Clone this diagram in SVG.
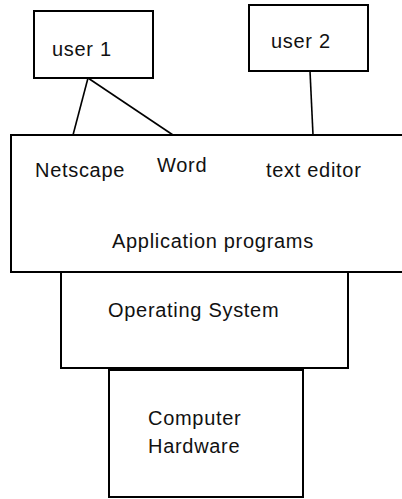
<svg xmlns="http://www.w3.org/2000/svg" width="402" height="499" viewBox="0 0 402 499">
<style>
.box{fill:#fff;stroke:#000;stroke-width:2}
.t{font-family:"Liberation Sans",Arial,sans-serif;font-size:20px;letter-spacing:0.7px;fill:#111}
.c{stroke:#000;stroke-width:1.6;fill:none}
</style>
<rect width="402" height="499" fill="#fff"/>
<g id="user1"><rect class="box" x="34" y="11" width="119" height="67"/><text class="t" x="52" y="56">user 1</text></g>
<g id="user2"><rect class="box" x="249" y="5" width="119" height="66"/><text class="t" x="271" y="48">user 2</text></g>
<g id="apps"><rect class="box" x="11" y="135" width="395" height="137"/>
<text class="t" x="35" y="177">Netscape</text>
<text class="t" x="157" y="172">Word</text>
<text class="t" x="266" y="177">text editor</text>
<text class="t" x="112" y="248">Application programs</text></g>
<g id="os"><rect class="box" x="61" y="272" width="287" height="96"/><text class="t" x="108" y="317">Operating System</text></g>
<g id="hw"><rect class="box" x="109" y="370" width="194" height="127"/><text class="t" x="148" y="425">Computer</text><text class="t" x="148" y="453">Hardware</text></g>
<g id="connectors">
<line class="c" x1="88" y1="78" x2="73" y2="135"/>
<line class="c" x1="88" y1="78" x2="173" y2="135"/>
<line class="c" x1="310" y1="71" x2="313" y2="135"/>
</g>
</svg>
